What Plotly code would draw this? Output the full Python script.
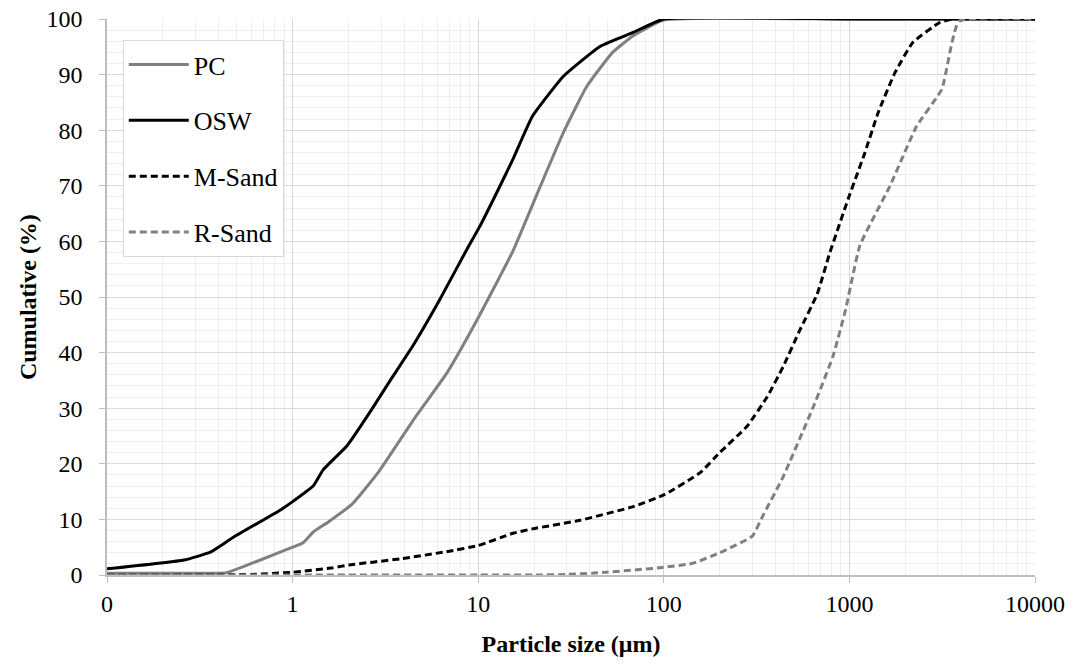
import plotly.graph_objects as go

# ---- data ----
pc_x = [0.1, 0.2, 0.3, 0.44, 0.67, 1.0, 1.14, 1.3, 1.55, 2.1, 2.9, 4.5, 6.8, 9.9, 15.4, 21.6, 28.8, 38.5, 53, 68.5, 100, 1000, 10000]
pc_y = [0.3, 0.3, 0.3, 0.4, 2.7, 5.0, 5.8, 7.8, 9.5, 12.8, 18.5, 28.0, 36.4, 46.0, 58.3, 69.9, 79.6, 87.9, 94.0, 97.0, 99.8, 100, 100]

osw_x = [0.1, 0.26, 0.36, 0.48, 0.86, 1.0, 1.29, 1.46, 1.97, 2.6, 3.3, 4.5, 6.2, 8.7, 10.2, 12.6, 15.4, 19.6, 28.8, 45.5, 68.5, 100, 1000, 10000]
osw_y = [1.1, 2.7, 4.1, 6.8, 11.7, 13.2, 16.0, 18.9, 23.3, 29.2, 34.6, 41.5, 49.5, 58.6, 62.7, 68.8, 74.8, 82.5, 89.7, 95.1, 97.6, 100, 100, 100]

ms_x = [0.1, 0.6, 1.0, 1.65, 2.0, 3.8, 6.75, 10, 15.4, 19.6, 35, 68.5, 100, 157, 200, 280, 360, 440, 540, 670, 785, 984, 1213, 1430, 1763, 2200, 3076, 3600, 10000]
ms_y = [0, 0.1, 0.5, 1.3, 1.8, 2.9, 4.2, 5.3, 7.5, 8.3, 9.8, 12.3, 14.4, 18.4, 22.0, 26.7, 32.0, 37.5, 44.0, 50.5, 58.0, 67.6, 76.0, 83.2, 90.4, 95.8, 99.4, 100, 100]

rs_x = [0.1, 1, 10, 20, 30, 49, 95, 143, 200, 300, 340, 440, 640, 815, 950, 1140, 1650, 2300, 3150, 3900, 10000]
rs_y = [0, 0, 0, 0, 0.1, 0.5, 1.3, 2.1, 4.0, 7.0, 10.5, 17.7, 30.3, 39.3, 47.5, 59.3, 69.9, 80.7, 87.4, 99.6, 100]

x_tickvals = [0.1, 1, 10, 100, 1000, 10000]
x_ticktext = ["0", "1", "10", "100", "1000", "10000"]
y_tickvals = [0, 10, 20, 30, 40, 50, 60, 70, 80, 90, 100]
y_ticktext = [str(v) + "\u00a0\u00a0" for v in y_tickvals]

FONT = "Liberation Serif"
GRAY = "#808080"

fig = go.Figure()
series = [
    ("PC", pc_x, pc_y, GRAY, "solid"),
    ("OSW", osw_x, osw_y, "black", "solid"),
    ("M-Sand", ms_x, ms_y, "black", "7px,4px"),
    ("R-Sand", rs_x, rs_y, GRAY, "7px,4px"),
]
for name, xs, ys, col, dash in series:
    fig.add_trace(go.Scatter(
        x=xs, y=ys, mode="lines", name=name, legendgroup=name,
        line=dict(color=col, width=3, dash=dash, shape="spline", smoothing=0.4),
    ))

fig.update_layout(
    width=1078, height=664,
    margin=dict(l=107, r=43, t=19, b=89),
    paper_bgcolor="white", plot_bgcolor="white",
    font=dict(family=FONT, size=24, color="black"),
    showlegend=True,
    legend=dict(
        x=0.017, y=0.962, xanchor="left", yanchor="top",
        bgcolor="white", bordercolor="#d9d9d9", borderwidth=1,
        font=dict(family=FONT, size=26, color="black"),
        tracegroupgap=19, itemwidth=60,
    ),
    annotations=[dict(
        text="<b>Cumulative (%)</b>", textangle=-90,
        xref="paper", yref="paper", x=-0.085, y=0.5,
        xanchor="center", yanchor="middle", showarrow=False,
        font=dict(family=FONT, size=24, color="black"),
    )],
)
fig.update_xaxes(
    type="log", range=[-1, 4], automargin=False,
    tickvals=x_tickvals, ticktext=x_ticktext,
    showgrid=True, gridcolor="#d9d9d9", gridwidth=1,
    minor=dict(dtick="D1", showgrid=True, gridcolor="#efefef", gridwidth=1, ticks=""),
    showline=True, linecolor="#bfbfbf", linewidth=1.5,
    ticks="outside", ticklen=6, tickcolor="#bfbfbf",
    tickfont=dict(family=FONT, size=24),
    title=dict(text="<b>Particle size (μm)</b>", font=dict(family=FONT, size=24), standoff=20),
    zeroline=False,
)
fig.update_yaxes(
    range=[0, 100], automargin=False,
    tickvals=y_tickvals, ticktext=y_ticktext,
    showgrid=True, gridcolor="#d9d9d9", gridwidth=1,
    minor=dict(dtick=2, showgrid=True, gridcolor="#efefef", gridwidth=1, ticks=""),
    showline=True, linecolor="#bfbfbf", linewidth=1.5,
    ticks="outside", ticklen=6, tickcolor="#bfbfbf",
    tickfont=dict(family=FONT, size=24),
    zeroline=False,
)

fig.write_html("out.html")
